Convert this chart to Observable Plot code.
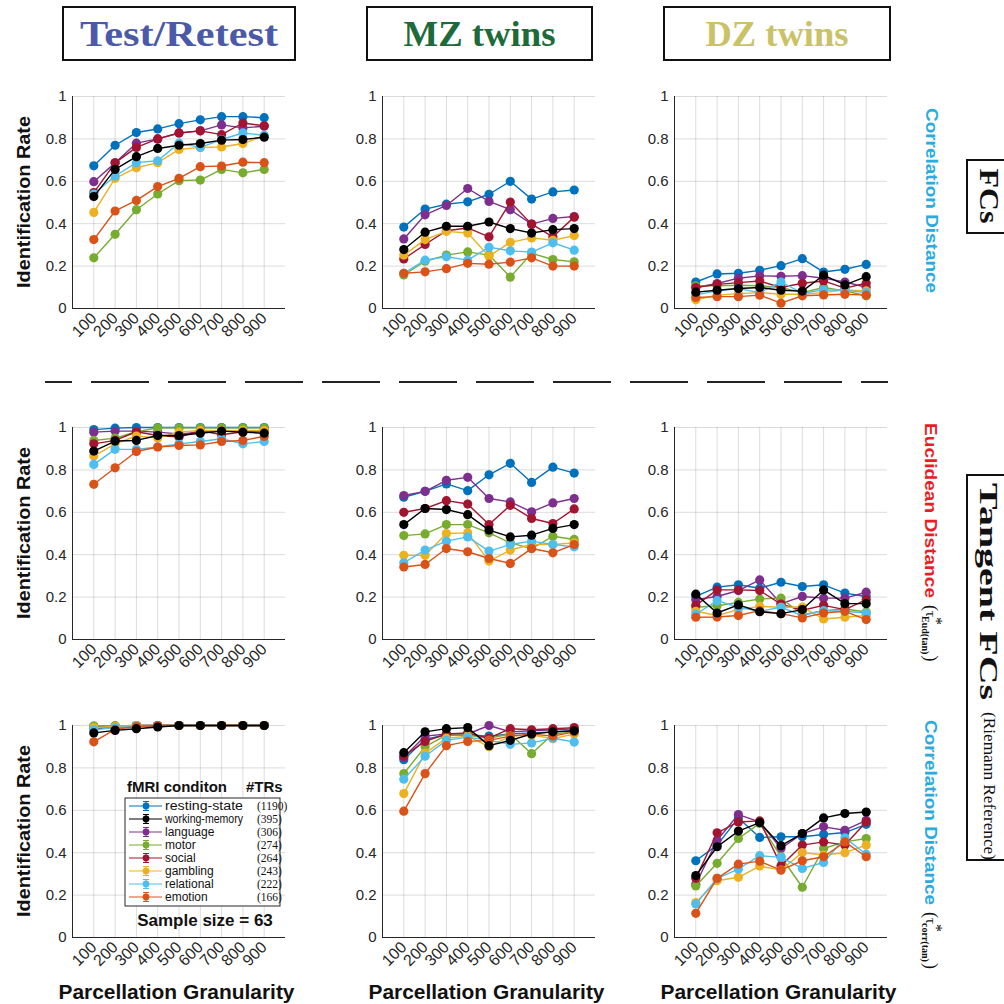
<!DOCTYPE html>
<html><head><meta charset="utf-8">
<script src="https://cdn.jsdelivr.net/npm/d3@7"></script>
<script src="https://cdn.jsdelivr.net/npm/@observablehq/plot@0.6"></script>
<style>
body{margin:0;background:#fff;}
#root{position:relative;width:1004px;height:1004px;overflow:hidden;font-family:"Liberation Sans",Arial,sans-serif;}
#root svg.panel{position:absolute;}
#overlay{position:absolute;left:0;top:0;pointer-events:none;}
</style></head><body><div id="root"></div>
<script>
const granularity=[100,200,300,400,500,600,700,800,900];
const conditions=["resting-state","working-memory","language","motor","social","gambling","relational","emotion"];
const trCounts=["(1190)","(395)","(306)","(274)","(264)","(243)","(222)","(166)"];
const colors=["#0072BD","#000000","#7E2F8E","#77AC30","#A2142F","#EDB120","#4DBEEE","#D95319"];
const yTicks=[0,0.2,0.4,0.6,0.8,1];
const cohorts=["Test/Retest","MZ twins","DZ twins"];
const cohortColors=["#4B5AA8","#1D6B3A","#C9C266"];
const sampleSizeLabel="Sample size = 63";

// rows: resting, working-memory, language, motor, social, gambling, relational, emotion
const trFcCorr=[
[0.673,0.77,0.83,0.847,0.872,0.89,0.905,0.905,0.90],
[0.528,0.656,0.716,0.755,0.77,0.778,0.794,0.797,0.808],
[0.598,0.687,0.78,0.80,0.828,0.838,0.866,0.852,0.86],
[0.239,0.35,0.466,0.54,0.603,0.606,0.656,0.64,0.656],
[0.547,0.687,0.76,0.80,0.828,0.838,0.82,0.875,0.862],
[0.453,0.614,0.664,0.688,0.75,0.76,0.762,0.778,0.815],
[0.54,0.625,0.688,0.697,0.78,0.76,0.797,0.828,0.817],
[0.325,0.46,0.51,0.575,0.614,0.669,0.672,0.69,0.688]];
const mzFcCorr=[
[0.384,0.469,0.492,0.503,0.539,0.60,0.516,0.55,0.559],
[0.278,0.36,0.388,0.388,0.408,0.377,0.356,0.372,0.377],
[0.328,0.442,0.486,0.566,0.505,0.466,0.398,0.425,0.434],
[0.158,0.223,0.252,0.267,0.252,0.148,0.26,0.231,0.22],
[0.234,0.302,0.367,0.38,0.338,0.502,0.398,0.338,0.431],
[0.252,0.325,0.364,0.356,0.247,0.312,0.333,0.322,0.344],
[0.166,0.228,0.244,0.228,0.289,0.272,0.266,0.31,0.275],
[0.166,0.173,0.188,0.213,0.209,0.219,0.239,0.20,0.20]];
const dzFcCorr=[
[0.125,0.163,0.166,0.18,0.202,0.235,0.172,0.185,0.208],
[0.077,0.086,0.094,0.099,0.086,0.082,0.157,0.111,0.15],
[0.099,0.118,0.143,0.154,0.152,0.155,0.143,0.125,0.10],
[0.107,0.107,0.11,0.107,0.099,0.075,0.099,0.083,0.06],
[0.099,0.114,0.122,0.13,0.099,0.119,0.13,0.096,0.119],
[0.041,0.063,0.07,0.075,0.067,0.067,0.075,0.088,0.083],
[0.064,0.083,0.094,0.075,0.125,0.072,0.088,0.086,0.075],
[0.052,0.056,0.056,0.063,0.025,0.06,0.064,0.067,0.063]];
const trTanEucl=[
[0.99,0.997,1,1,1,1,1,1,1],
[0.889,0.936,0.939,0.962,0.962,0.973,0.983,0.978,0.973],
[0.978,0.983,0.983,0.978,0.97,0.978,0.986,0.983,0.983],
[0.939,0.95,0.98,0.998,0.998,0.998,0.998,0.998,0.998],
[0.923,0.939,0.98,0.962,0.955,0.986,0.966,0.98,0.986],
[0.865,0.923,0.96,0.95,0.978,0.986,0.986,0.986,0.986],
[0.826,0.897,0.897,0.908,0.923,0.934,0.947,0.923,0.934],
[0.732,0.81,0.887,0.908,0.915,0.918,0.934,0.939,0.958]];
const mzTanEucl=[
[0.671,0.699,0.734,0.702,0.777,0.831,0.741,0.813,0.785],
[0.542,0.618,0.613,0.589,0.516,0.484,0.492,0.524,0.542],
[0.679,0.699,0.751,0.765,0.665,0.649,0.602,0.644,0.665],
[0.49,0.498,0.542,0.542,0.503,0.456,0.429,0.487,0.472],
[0.60,0.618,0.655,0.639,0.542,0.633,0.571,0.547,0.616],
[0.397,0.397,0.50,0.503,0.37,0.422,0.448,0.448,0.456],
[0.362,0.422,0.464,0.484,0.417,0.448,0.464,0.448,0.437],
[0.342,0.354,0.429,0.414,0.382,0.359,0.429,0.409,0.448]];
const dzTanEucl=[
[0.203,0.247,0.258,0.242,0.27,0.25,0.258,0.219,0.203],
[0.214,0.125,0.163,0.131,0.122,0.141,0.234,0.169,0.169],
[0.188,0.203,0.231,0.281,0.169,0.203,0.195,0.195,0.223],
[0.152,0.159,0.175,0.191,0.195,0.117,0.136,0.144,0.13],
[0.161,0.234,0.234,0.231,0.167,0.138,0.161,0.141,0.188],
[0.133,0.113,0.141,0.156,0.152,0.153,0.097,0.105,0.114],
[0.119,0.183,0.152,0.133,0.152,0.113,0.136,0.133,0.125],
[0.105,0.106,0.113,0.136,0.122,0.102,0.125,0.133,0.094]];
const trTanCorr=[
[0.995,0.998,1,1,1,1,1,1,1],
[0.965,0.977,0.985,0.993,1,1,1,1,1],
[0.99,0.995,1,1,1,1,1,1,1],
[0.998,0.998,1,1,1,1,1,1,1],
[0.985,0.99,0.998,1,1,1,1,1,1],
[0.99,0.995,1,1,1,1,1,1,1],
[0.98,0.99,0.998,1,1,1,1,1,1],
[0.923,0.982,0.995,1,1,1,1,1,1]];
const mzTanCorr=[
[0.839,0.935,0.955,0.955,0.95,0.96,0.965,0.97,0.975],
[0.872,0.97,0.985,0.99,0.905,0.93,0.96,0.97,0.975],
[0.85,0.95,0.96,0.96,1.0,0.97,0.975,0.98,0.985],
[0.773,0.90,0.955,0.955,0.94,0.96,0.867,0.96,0.97],
[0.856,0.925,0.96,0.965,0.94,0.985,0.98,0.985,0.99],
[0.679,0.87,0.94,0.95,0.90,0.95,0.955,0.938,0.96],
[0.747,0.855,0.93,0.945,0.93,0.911,0.918,0.94,0.922],
[0.596,0.773,0.905,0.925,0.93,0.95,0.96,0.95,0.97]];
const dzTanCorr=[
[0.362,0.436,0.564,0.472,0.475,0.475,0.486,0.495,0.534],
[0.292,0.428,0.502,0.542,0.433,0.49,0.564,0.585,0.592],
[0.251,0.459,0.58,0.545,0.42,0.49,0.522,0.506,0.553],
[0.243,0.35,0.467,0.538,0.381,0.237,0.42,0.451,0.467],
[0.279,0.494,0.545,0.55,0.339,0.436,0.451,0.436,0.545],
[0.165,0.268,0.284,0.337,0.318,0.401,0.389,0.4,0.436],
[0.158,0.279,0.323,0.386,0.378,0.326,0.354,0.47,0.393],
[0.114,0.279,0.346,0.36,0.318,0.362,0.381,0.451,0.381]];

const panels=[[trFcCorr,mzFcCorr,dzFcCorr],[trTanEucl,mzTanEucl,dzTanEucl],[trTanCorr,mzTanCorr,dzTanCorr]];
const colX=[72,382,674], rowY=[96,427,725];
const PW=213, PH=212, ML=50, MR=10, MT=8, MB=50;
const drawOrder=[0,2,3,4,5,6,7,1];
const root=document.getElementById("root");

panels.forEach((row,r)=>row.forEach((vals,c)=>{
  const series=drawOrder.map(i=>granularity.map((g,j)=>({cond:conditions[i],g,v:vals[i][j]})));
  const marks=[
    Plot.gridX(granularity,{stroke:"#000",strokeOpacity:0.14}),
    Plot.gridY(yTicks,{stroke:"#000",strokeOpacity:0.14}),
    Plot.ruleX([0],{stroke:"#262626"}),
    Plot.ruleY([0],{stroke:"#262626"})
  ];
  series.forEach(s=>{
    marks.push(Plot.line(s,{x:"g",y:"v",stroke:"cond",strokeWidth:1.4}));
    marks.push(Plot.dot(s,{x:"g",y:"v",fill:"cond",r:4.6}));
  });
  const svg=Plot.plot({
    width:PW+ML+MR,height:PH+MT+MB,
    marginLeft:ML,marginRight:MR,marginTop:MT,marginBottom:MB,
    x:{domain:[0,1000],ticks:granularity,tickRotate:-45,tickSize:0,tickPadding:7,label:null},
    y:{domain:[0,1],ticks:yTicks,tickFormat:d=>String(+d.toFixed(1)),tickSize:0,tickPadding:6,label:null},
    color:{domain:conditions,range:colors},
    style:{fontSize:"15px",fontFamily:"'Liberation Sans',Arial,sans-serif",color:"#262626",background:"transparent",overflow:"visible"},
    marks
  });
  svg.classList.add("panel");
  svg.style.left=(colX[c]-ML)+"px";
  svg.style.top=(rowY[r]-MT)+"px";
  d3.select(svg).selectAll("[aria-label='x-axis tick label'] text").attr("font-size",16);
  root.appendChild(svg);
}));

// overlay annotations
const ov=d3.select(root).append("svg").attr("id","overlay").attr("width",1004).attr("height",1004);
const SERIF="'Liberation Serif','DejaVu Serif',serif";
// headers
const hdr=[{x:63,w:232,len:198},{x:367,w:225,len:152},{x:664,w:226,len:143}];
hdr.forEach((h,i)=>{
  ov.append("rect").attr("x",h.x).attr("y",7).attr("width",h.w).attr("height",53).attr("fill","none").attr("stroke","#111").attr("stroke-width",2);
  ov.append("text").attr("x",h.x+h.w/2).attr("y",46).attr("text-anchor","middle")
    .attr("font-family",SERIF).attr("font-weight","bold").attr("font-size",35).attr("fill",cohortColors[i])
    .attr("textLength",h.len).attr("lengthAdjust","spacingAndGlyphs").text(cohorts[i]);
});
// dashed separator
ov.append("line").attr("x1",45).attr("x2",888).attr("y1",382).attr("y2",382).attr("stroke","#222").attr("stroke-width",2)
  .attr("stroke-dasharray","58 19").attr("stroke-dashoffset",31);
// y titles
rowY.forEach(y=>{
  ov.append("text").attr("transform",`translate(24,${y+PH/2}) rotate(-90)`).attr("text-anchor","middle").attr("dominant-baseline","central")
    .attr("font-weight","bold").attr("font-size",18).attr("fill","#111").attr("textLength",172).attr("lengthAdjust","spacingAndGlyphs").text("Identification Rate");
});
// x titles
colX.forEach(x=>{
  ov.append("text").attr("x",x+PW/2-2).attr("y",999).attr("text-anchor","middle")
    .attr("font-weight","bold").attr("font-size",20).attr("fill","#111").attr("textLength",236).attr("lengthAdjust","spacingAndGlyphs").text("Parcellation Granularity");
});
// right labels
const CYAN="#29ABE2", RED="#EC1C24";
ov.append("text").attr("transform","translate(931,108) rotate(90)").attr("dominant-baseline","central")
  .attr("font-weight","bold").attr("font-size",17).attr("fill",CYAN).attr("textLength",185).attr("lengthAdjust","spacingAndGlyphs").text("Correlation Distance");
function tauLabel(y0,main,color,len,sub){
  const t=ov.append("text").attr("transform",`translate(931,${y0}) rotate(90)`).attr("dominant-baseline","central");
  t.append("tspan").attr("font-weight","bold").attr("font-size",17).attr("fill",color).attr("textLength",len).attr("lengthAdjust","spacingAndGlyphs").text(main);
  t.append("tspan").attr("dx",7).attr("font-family",SERIF).attr("font-size",18).attr("fill","#111").text("(");
  t.append("tspan").attr("font-family",SERIF).attr("font-size",15).attr("fill","#111").text("τ");
  t.append("tspan").attr("dy",-6).attr("font-family",SERIF).attr("font-size",16).attr("fill","#111").text("*");
  t.append("tspan").attr("dx",-9).attr("dy",11).attr("font-family",SERIF).attr("font-weight","bold").attr("font-size",10).attr("fill","#111").text(sub);
  t.append("tspan").attr("dx",1).attr("dy",-5).attr("font-family",SERIF).attr("font-size",18).attr("fill","#111").text(")");
}
tauLabel(423,"Euclidean Distance",RED,175,"Eud(tan)");
tauLabel(720,"Correlation Distance",CYAN,185,"corr(tan)");
// group boxes
ov.append("rect").attr("x",967).attr("y",160).attr("width",60).attr("height",73).attr("fill","none").attr("stroke","#111").attr("stroke-width",2);
ov.append("text").attr("transform","translate(989,196) rotate(90)").attr("text-anchor","middle").attr("dominant-baseline","central")
  .attr("font-family",SERIF).attr("font-weight","bold").attr("font-size",27).attr("fill","#111").attr("textLength",55).attr("lengthAdjust","spacingAndGlyphs").text("FCs");
ov.append("rect").attr("x",967).attr("y",475).attr("width",60).attr("height",385).attr("fill","none").attr("stroke","#111").attr("stroke-width",2);
ov.append("text").attr("transform","translate(988,483) rotate(90)").attr("dominant-baseline","central")
  .attr("font-family",SERIF).attr("font-weight","bold").attr("font-size",26).attr("fill","#111").attr("textLength",217).attr("lengthAdjust","spacingAndGlyphs").text("Tangent FCs");
ov.append("text").attr("transform","translate(989,712) rotate(90)").attr("dominant-baseline","central")
  .attr("font-family",SERIF).attr("font-size",16).attr("fill","#111").attr("textLength",148).attr("lengthAdjust","spacingAndGlyphs").text("(Riemann Reference)");

// legend in bottom-left panel
const lg=ov.append("g");
lg.append("text").attr("x",127).attr("y",792).attr("font-weight","bold").attr("font-size",15).attr("fill","#111").text("fMRI conditon");
lg.append("text").attr("x",246).attr("y",792).attr("font-weight","bold").attr("font-size",15).attr("fill","#111").text("#TRs");
lg.append("rect").attr("x",125).attr("y",798).attr("width",155).attr("height",108).attr("fill","#fff").attr("stroke","#262626").attr("stroke-width",1);
conditions.forEach((name,i)=>{
  const y=806+i*13;
  lg.append("line").attr("x1",129).attr("x2",162).attr("y1",y).attr("y2",y).attr("stroke",colors[i]).attr("stroke-opacity",0.5).attr("stroke-width",2);
  lg.append("path").attr("d",`M146,${y-4.5}V${y+4.5}M143,${y-4.5}H149M143,${y+4.5}H149`).attr("stroke",colors[i]).attr("stroke-width",1);
  lg.append("circle").attr("cx",146).attr("cy",y).attr("r",3.4).attr("fill",colors[i]);
  lg.append("text").attr("x",165).attr("y",y).attr("dominant-baseline","central").attr("font-size",12).attr("fill","#111").text(name)
    .attr("textLength",name.length>12?78:null).attr("lengthAdjust","spacingAndGlyphs");
  lg.append("text").attr("x",257).attr("y",y).attr("dominant-baseline","central").attr("font-family",SERIF).attr("font-size",11.5).attr("fill","#111").text(trCounts[i]);
});
lg.append("text").attr("x",205).attr("y",926).attr("text-anchor","middle").attr("font-weight","bold").attr("font-size",17).attr("fill","#111").text(sampleSizeLabel);
</script></body></html>
